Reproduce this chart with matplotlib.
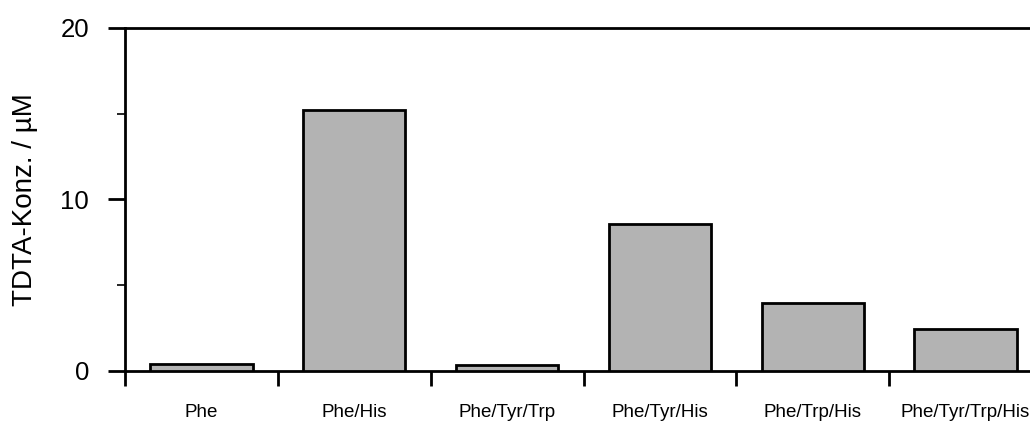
import matplotlib
matplotlib.use("Agg")
import matplotlib.pyplot as plt
from matplotlib.ticker import MultipleLocator

# Daten
categories = ["Phe", "Phe/His", "Phe/Tyr/Trp", "Phe/Tyr/His", "Phe/Trp/His", "Phe/Tyr/Trp/His"]
values = [0.4, 15.2, 0.35, 8.6, 3.95, 2.45]

plt.rcParams['font.family'] = ['Liberation Sans', 'DejaVu Sans']

fig = plt.figure(figsize=(10.30, 4.25), dpi=100)
# Achse reicht rechts etwas über den Bildrand hinaus
ax = fig.add_axes([125 / 1030, 54 / 425, 917 / 1030, 343 / 425])

centers = [i + 0.5 for i in range(len(categories))]
ax.bar(centers, values, width=0.67, color="#b3b3b3", edgecolor="black", linewidth=2.0, zorder=3)

ax.set_xlim(0, len(categories))
ax.set_ylim(0, 20)

# x-Achse: Striche an den Grenzen, Beschriftung in der Mitte
ax.set_xticks(range(len(categories) + 1))
ax.set_xticklabels([])
ax.set_xticks(centers, minor=True)
ax.set_xticklabels(categories, minor=True, fontsize=13.5)
ax.tick_params(axis="x", which="major", direction="out", length=11, width=2.0)
ax.tick_params(axis="x", which="minor", length=0, pad=24)

# y-Achse
ax.yaxis.set_major_locator(MultipleLocator(10))
ax.yaxis.set_minor_locator(MultipleLocator(5))
ax.tick_params(axis="y", which="major", direction="out", length=12, width=2.0, labelsize=18.5, pad=14)
ax.tick_params(axis="y", which="minor", direction="out", length=6, width=1.2)
ax.set_ylabel("TDTA-Konz. / µM", fontsize=20, labelpad=16)

for side in ["left", "bottom", "top"]:
    ax.spines[side].set_linewidth(2.0)
ax.spines["right"].set_visible(False)

fig.savefig("out.png", dpi=100)
